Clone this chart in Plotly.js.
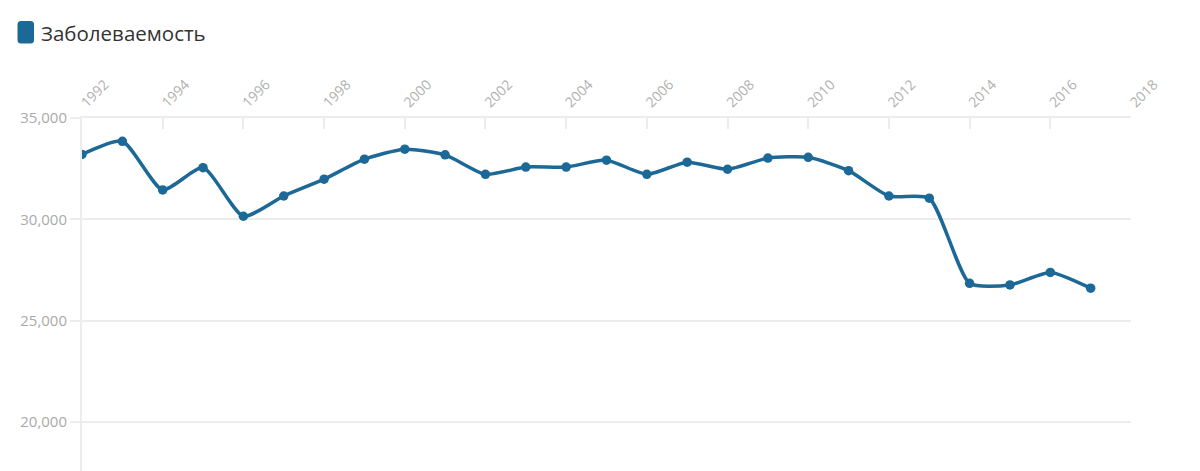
<!DOCTYPE html>
<html><head><meta charset="utf-8">
<script src="https://cdn.plot.ly/plotly-3.0.1.min.js"></script>
<style>html,body{margin:0;padding:0;background:#fff}#chart{width:1200px;height:471px}</style>
</head><body><div id="chart"></div>
<script>
var seriesName = 'Заболеваемость';
var years = [1992,1993,1994,1995,1996,1997,1998,1999,2000,2001,2002,2003,2004,2005,2006,2007,2008,2009,2010,2011,2012,2013,2014,2015,2016,2017];
var cases = [33200,33850,31450,32550,30150,31150,31980,32970,33460,33180,32220,32580,32580,32920,32220,32820,32470,33020,33060,32400,31150,31040,26840,26760,27380,26600];
var xTicks = [1992,1994,1996,1998,2000,2002,2004,2006,2008,2010,2012,2014,2016,2018];
var yTicks = [20000,25000,30000,35000];

var color = '#1c6896';
var L = 82, R = 1131, T = 118, B = 471;
function px(x){return (x-L)/(R-L);}
function py(y){return (B-y)/(B-T);}

function roundRect(x0, y0, x1, y1, r){
  return 'M' + px(x0+r) + ',' + py(y0) +
    ' L' + px(x1-r) + ',' + py(y0) + ' Q' + px(x1) + ',' + py(y0) + ' ' + px(x1) + ',' + py(y0+r) +
    ' L' + px(x1) + ',' + py(y1-r) + ' Q' + px(x1) + ',' + py(y1) + ' ' + px(x1-r) + ',' + py(y1) +
    ' L' + px(x0+r) + ',' + py(y1) + ' Q' + px(x0) + ',' + py(y1) + ' ' + px(x0) + ',' + py(y1-r) +
    ' L' + px(x0) + ',' + py(y0+r) + ' Q' + px(x0) + ',' + py(y0) + ' ' + px(x0+r) + ',' + py(y0) + ' Z';
}

var trace = {
  x: years, y: cases, type: 'scatter', mode: 'lines+markers',
  line: {color: color, width: 3.5, shape: 'spline', smoothing: 0.6},
  marker: {color: color, size: 9.5},
  name: seriesName, showlegend: false, hoverinfo: 'x+y'
};

var layout = {
  width: 1200, height: 471,
  margin: {l: L, r: 1200-R, t: T, b: 0},
  paper_bgcolor: '#fff', plot_bgcolor: '#fff',
  font: {family: 'Open Sans, sans-serif', color: '#aaa'},
  showlegend: false,
  xaxis: {
    side: 'top', range: [1992, 2018], tickvals: xTicks, ticktext: xTicks.map(String),
    tickangle: -45, tickfont: {size: 14, color: '#b0b0b0'},
    showgrid: false, zeroline: false, showline: true, linecolor: '#ececec', linewidth: 2,
    ticks: 'inside', ticklen: 11, tickcolor: '#ececec', tickwidth: 2
  },
  yaxis: {
    range: [17577, 35000], tickvals: yTicks, ticktext: yTicks.map(function(v){return v.toLocaleString('en-US');}),
    tickfont: {size: 15, color: '#aaa'},
    showgrid: true, gridcolor: '#ececec', gridwidth: 2, zeroline: false,
    showline: true, linecolor: '#ececec', linewidth: 2,
    ticks: 'outside', ticklen: 10, tickcolor: '#ececec', tickwidth: 2
  },
  shapes: [{
    type: 'path', xref: 'paper', yref: 'paper',
    path: roundRect(17.5, 21, 34, 43.5, 3.5),
    fillcolor: color, line: {width: 0}, layer: 'above'
  }],
  annotations: [{
    xref: 'paper', yref: 'paper', x: px(38.5), y: py(33), xanchor: 'left', yanchor: 'middle',
    text: seriesName, showarrow: false, font: {size: 20.5, color: '#333', family: 'Open Sans, sans-serif'}
  }]
};

Plotly.newPlot('chart', [trace], layout, {displayModeBar: false, staticPlot: true});
</script></body></html>
